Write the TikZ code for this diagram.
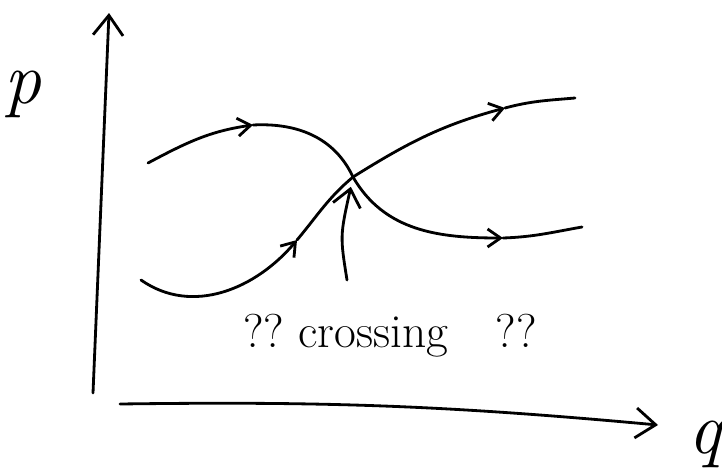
\documentclass[tikz,border=0pt]{standalone}
\usepackage{fontspec}
\usepackage{tikz}
\usetikzlibrary{arrows.meta}
\tikzset{
  sk sketch/.style={x=0.02cm, y=0.02cm, line cap=round, line join=round},
  sk line/.style={draw=black, line width=1.6pt},
  sk axis/.style={sk line, -{Straight Barb[length=4mm,width=6mm]}},
  sk flow/.style={sk line, -{Straight Barb[length=2.6mm,width=3.6mm]}},
  sk pointer/.style={sk line, -{Straight Barb[length=3.4mm,width=5.6mm]}, shorten >=0.2cm},
  sk letter/.style={font=\fontsize{42}{46}\selectfont\itshape, inner sep=0pt},
  sk note/.style={font=\fontsize{27}{30}\selectfont, inner sep=0pt}
}
\begin{document}
\begin{tikzpicture}[sk sketch]
\useasboundingbox (0,0) rectangle (722,471);
\coordinate (vbase) at (93,78);
\coordinate (vtop) at (109,458);
\coordinate (hbase) at (120,67);
\coordinate (htip) at (658,46);
\coordinate (cross) at (353,294);
\coordinate (fallStart) at (148,308);
\coordinate (fallArrow) at (253,346);
\coordinate (fallLow) at (503,233);
\coordinate (fallEnd) at (582,244);
\coordinate (riseStart) at (141,191);
\coordinate (riseArrow) at (297,231);
\coordinate (riseHigh) at (505,363);
\coordinate (riseEnd) at (575,373);
\coordinate (tail) at (347,191);
\node[sk letter] (plabel) at (23,377) {p};
\node[sk letter] (qlabel) at (705,27) {q};
\node[sk note,anchor=base] (note) at (390,124) {??~crossing\quad??};
\draw[sk axis] (vbase) -- (vtop);
\draw[sk axis] (hbase) to[bend left=3] (htip);
\draw[sk flow] (fallStart) to[out=28,in=188] (fallArrow);
\draw[sk line] (fallArrow) to[out=3,in=115] (cross);
\draw[sk flow] (cross) to[out=-60,in=180] (fallLow);
\draw[sk line] (fallLow) to[out=2,in=190] (fallEnd);
\draw[sk flow] (riseStart) to[out=-35,in=230] (riseArrow);
\draw[sk line] (riseArrow) to[out=50,in=220] (cross);
\draw[sk flow] (cross) to[out=32,in=195] (riseHigh);
\draw[sk line] (riseHigh) to[out=15,in=185] (riseEnd);
\draw[sk pointer] (tail) .. controls (340,235) .. (cross);
\end{tikzpicture}
\end{document}
